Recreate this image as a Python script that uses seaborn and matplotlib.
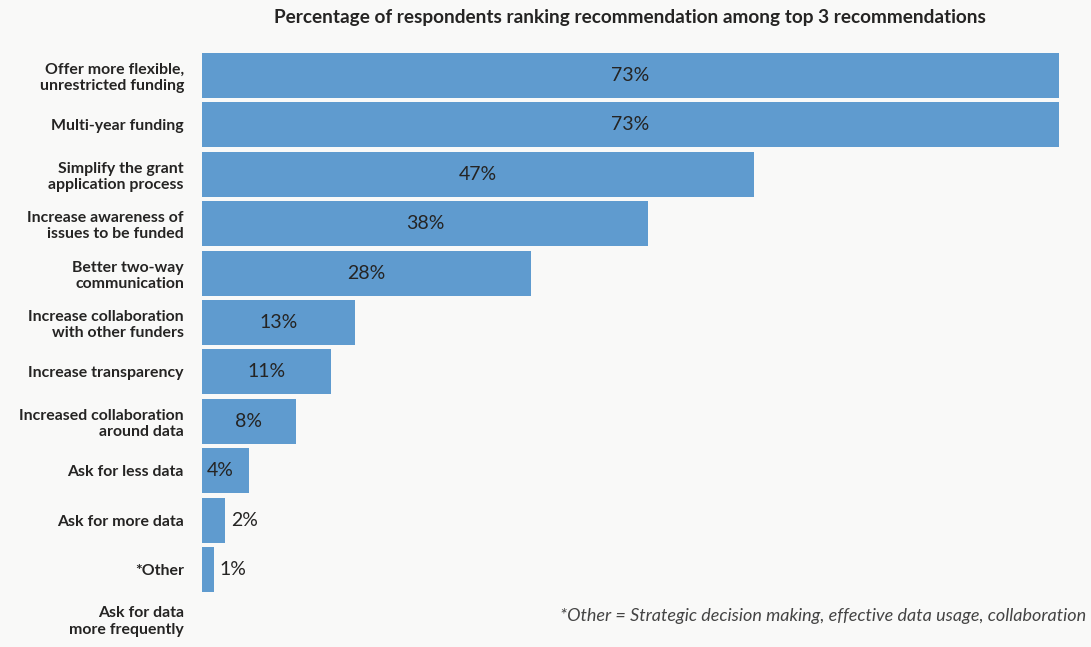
import matplotlib
matplotlib.use("Agg")
import matplotlib.pyplot as plt
import seaborn as sns
import pandas as pd

categories = [
    "Offer more flexible,\nunrestricted funding",
    "Multi-year funding",
    "Simplify the grant\napplication process",
    "Increase awareness of\nissues to be funded",
    "Better two-way\ncommunication",
    "Increase collaboration\nwith other funders",
    "Increase transparency",
    "Increased collaboration\naround data",
    "Ask for less data",
    "Ask for more data",
    "*Other",
    "Ask for data\nmore frequently",
]
values = [73, 73, 47, 38, 28, 13, 11, 8, 4, 2, 1, 0]

title = "Percentage of respondents ranking recommendation among top 3 recommendations"
footnote = "*Other = Strategic decision making, effective data usage, collaboration"

bg = "#f9f9f8"
bar_color = "#5f9bcf"
text_color = "#252423"

sns.set_theme(style="white")
plt.rcParams["font.family"] = ["Lato", "DejaVu Sans"]

W, H = 1091, 647
fig = plt.figure(figsize=(W / 100, H / 100), dpi=100, facecolor=bg)
ax = fig.add_axes([202 / W, 1 - 643.6 / H, (1059 - 202) / W, (643.6 - 50.8) / H])
ax.set_facecolor(bg)

df = pd.DataFrame({"category": categories, "value": values})
sns.barplot(data=df, x="value", y="category", orient="h", color=bar_color,
            saturation=1, width=0.91, linewidth=0, ax=ax)

ax.set_xlim(0, 73)
ax.set_ylim(len(categories) - 0.5, -0.5)
ax.set_xlabel("")
ax.set_ylabel("")
ax.set_xticks([])
for s in ax.spines.values():
    s.set_visible(False)
ax.tick_params(axis="y", length=0, pad=13)
for lbl in ax.get_yticklabels():
    lbl.set_fontweight("bold")
    lbl.set_fontsize(11.4)
    lbl.set_color(text_color)
    lbl.set_horizontalalignment("right")
    lbl.set_multialignment("right")
    lbl.set_linespacing(1.2)

for i, v in enumerate(values):
    if v <= 0:
        continue
    if v >= 5:
        ax.text(v / 2, i, f"{v}%", ha="center", va="center",
                fontsize=14, color=text_color)
    elif v >= 3:
        ax.text(0.4, i, f"{v}%", ha="left", va="center",
                fontsize=14, color=text_color)
    else:
        ax.text(v + 0.5, i, f"{v}%", ha="left", va="center",
                fontsize=14, color=text_color)

fig.text(630 / W, 1 - 18 / H, title, ha="center", va="center",
         fontsize=13.7, fontweight="bold", color=text_color)
fig.text(1086 / W, 1 - 616 / H, footnote, ha="right", va="center",
         fontsize=13, style="italic", color="#444444")

fig.savefig("out.png", dpi=100, facecolor=bg)
